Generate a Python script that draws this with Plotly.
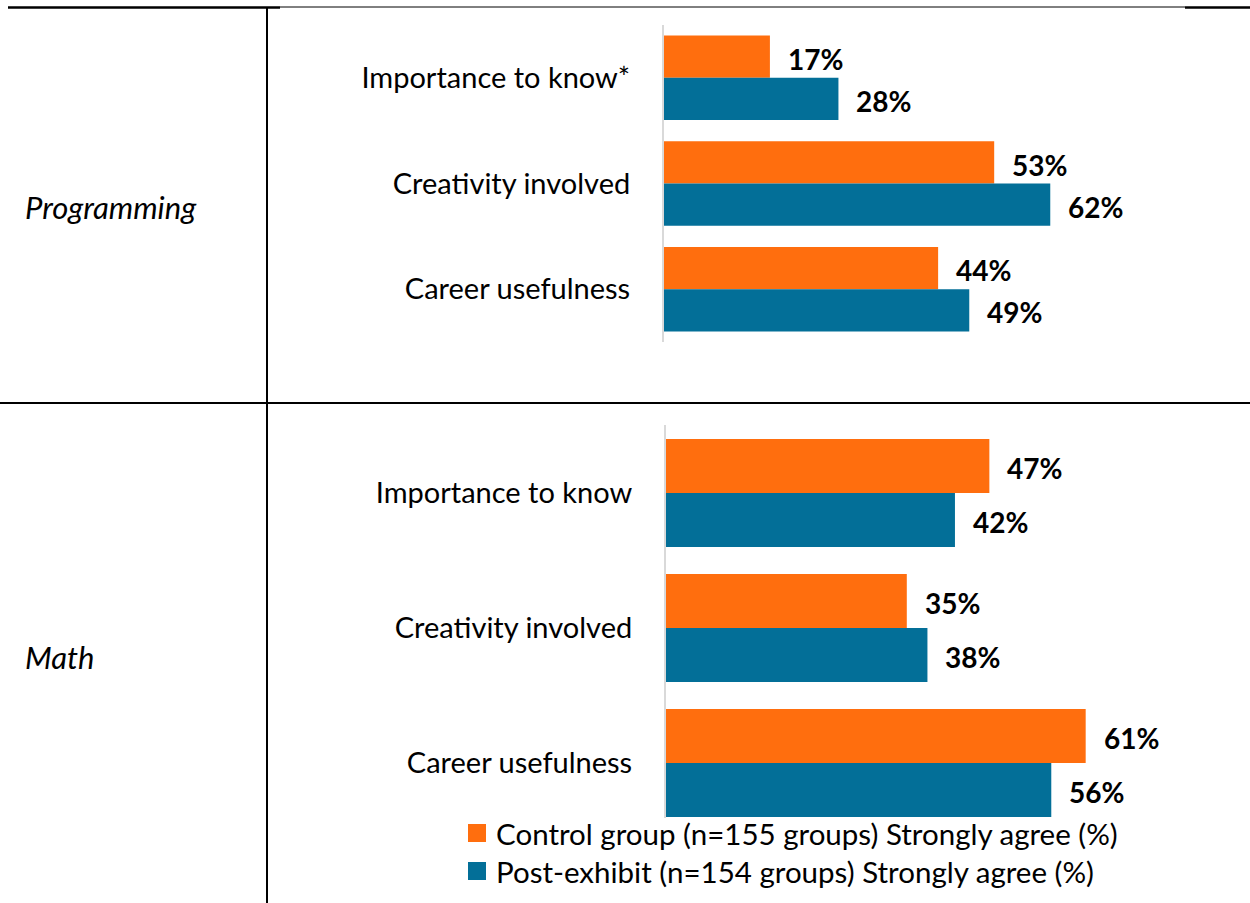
import plotly.graph_objects as go

# Survey results: share of groups who "strongly agree", by topic and statement
prog_items = ["Importance to know*", "Creativity involved", "Career usefulness"]
prog_control = [17, 53, 44]
prog_post = [28, 62, 49]

math_items = ["Importance to know", "Creativity involved", "Career usefulness"]
math_control = [47, 35, 61]
math_post = [42, 38, 56]

series_names = [
    "Control group (n=155 groups) Strongly agree (%)",
    "Post-exhibit (n=154 groups) Strongly agree (%)",
]
group_names = ["Programming", "Math"]

ORANGE = "#FF6E0E"
BLUE = "#036F98"
FONT = "Lato"
W, H = 1250, 903


def px(x):
    return x / W


def py(y):
    return 1 - y / H


fig = go.Figure()

panels = [
    ("x", "y", prog_items, prog_control, prog_post, 19),
    ("x2", "y2", math_items, math_control, math_post, 25),
]

annotations = []
for xa, ya, items, ctrl, post, shift in panels:
    for vals, color, name in [(ctrl, ORANGE, series_names[0]), (post, BLUE, series_names[1])]:
        fig.add_trace(go.Bar(
            x=vals, y=items, orientation="h", name=name,
            marker=dict(color=color, line=dict(width=0)),
            xaxis=xa, yaxis=ya, showlegend=False, hoverinfo="skip",
        ))
    # value labels just past the end of each bar
    for vals, ys in [(ctrl, shift), (post, -shift - 4)]:
        for item, v in zip(items, vals):
            annotations.append(dict(
                x=v, y=item, xref=xa, yref=ya, text=f"<b>{v}%</b>",
                showarrow=False, xanchor="left", yanchor="middle",
                xshift=16, yshift=ys,
                font=dict(family=FONT, size=28, color="black"),
            ))

# group labels in the left column
for name, ypix in zip(group_names, [207, 657]):
    annotations.append(dict(
        x=px(23), y=py(ypix), xref="paper", yref="paper", text=name,
        showarrow=False, xanchor="left", yanchor="middle",
        font=dict(family=FONT, size=31, color="black", style="italic"),
    ))

# legend drawn as swatches plus text
shapes = []
for i, (name, color) in enumerate(zip(series_names, [ORANGE, BLUE])):
    yc = 833 + 38 * i
    shapes.append(dict(type="rect", xref="paper", yref="paper",
                       x0=px(468), x1=px(486), y0=py(yc - 9), y1=py(yc + 9),
                       fillcolor=color, line=dict(width=0)))
    annotations.append(dict(
        x=px(494), y=py(yc), xref="paper", yref="paper", text=name,
        showarrow=False, xanchor="left", yanchor="middle",
        font=dict(family=FONT, size=29.5, color="black"),
    ))

# table rules
rules = [
    (8, 7.5, 280, 7.5, 2.5),
    (280, 7, 1185, 7, 1),
    (1185, 7.5, 1250, 7.5, 2.5),
    (0, 403, 1250, 403, 2),
    (267, 8, 267, 903, 2),
]
for x0, y0, x1, y1, w in rules:
    shapes.append(dict(type="line", xref="paper", yref="paper",
                       x0=px(x0), y0=py(y0), x1=px(x1), y1=py(y1),
                       line=dict(color="black", width=w)))

yaxis_common = dict(
    type="category", showline=True, linecolor="#D9D9D9", linewidth=2,
    showgrid=False, zeroline=False, ticks="", ticklabelstandoff=26,
    tickfont=dict(family=FONT, size=29, color="black"),
)

fig.update_layout(
    width=W, height=H,
    margin=dict(l=0, r=0, t=0, b=0),
    paper_bgcolor="white", plot_bgcolor="white",
    barmode="group", bargap=0.2, bargroupgap=0,
    showlegend=False,
    xaxis=dict(domain=[px(664), 1], range=[0, (W - 664) / 6.23], visible=False, anchor="y"),
    xaxis2=dict(domain=[px(666), 1], range=[0, (W - 666) / 6.88], visible=False, anchor="y2"),
    yaxis=dict(domain=[py(342), py(25)], range=[2.5, -0.5], anchor="x", **yaxis_common),
    yaxis2=dict(domain=[py(818), py(425)], range=[2.407, -0.504], anchor="x2", **yaxis_common),
    annotations=annotations,
    shapes=shapes,
)

fig.write_html("out.html")
